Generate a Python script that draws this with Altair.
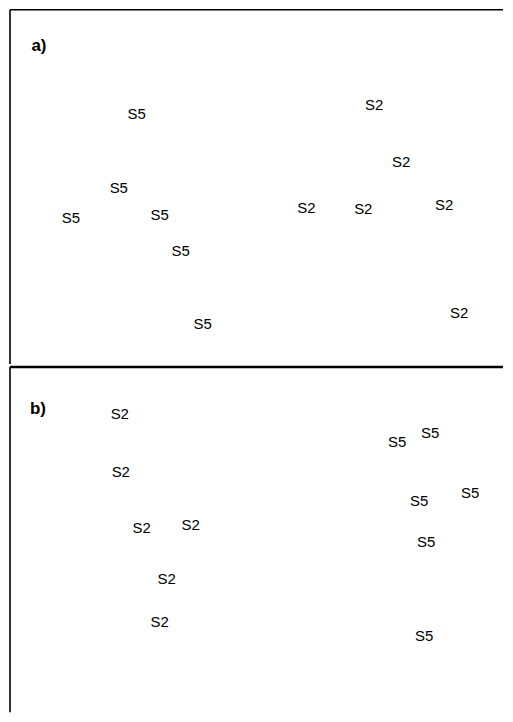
import altair as alt
import pandas as pd

# Panel a) ordination scores (x, y in plot units; y measured downward from the top edge)
a_labels = ["S5", "S2", "S2", "S5", "S5", "S5", "S2", "S2", "S2", "S5", "S5", "S2"]
a_x = [127, 365, 392, 109, 61, 150, 297, 354, 435, 171, 193, 450]
a_y = [105, 95, 153, 179, 209, 206, 199, 200, 196, 242, 315, 304]

# Panel b) ordination scores
b_labels = ["S2", "S2", "S2", "S2", "S2", "S2", "S5", "S5", "S5", "S5", "S5", "S5"]
b_x = [110, 111, 132, 181, 157, 150, 388, 421, 410, 461, 417, 415]
b_y = [47, 105, 161, 158, 212, 256, 75, 66, 134, 126, 175, 270]

panel_names = ["a)", "b)"]
panel_name_x = [29, 28]
panel_name_y = [36, 42]

W = 494
HA = 355
HB = 346
FONT = "Liberation Sans"


def panel(labels, xs, ys, name, nx, ny, height, top_width):
    df = pd.DataFrame({"x": xs, "y": ys, "label": labels})
    nd = pd.DataFrame({"x": [nx], "y": [ny], "label": [name]})
    frame = pd.DataFrame({"edge": ["frame"]})
    xs_ = alt.Scale(domain=[0, W], nice=False, zero=False)
    ys_ = alt.Scale(domain=[height, 0], nice=False, zero=False)
    pts = alt.Chart(df).mark_text(font=FONT, fontSize=15, align="center",
                                  baseline="middle", color="black").encode(
        x=alt.X("x:Q", scale=xs_, axis=None),
        y=alt.Y("y:Q", scale=ys_, axis=None),
        text="label:N",
    )
    lab = alt.Chart(nd).mark_text(font=FONT, fontSize=17, fontWeight="bold",
                                  align="center", baseline="middle", color="black").encode(
        x=alt.X("x:Q", scale=xs_, axis=None),
        y=alt.Y("y:Q", scale=ys_, axis=None),
        text="label:N",
    )
    top = alt.Chart(frame).mark_rule(color="black", strokeWidth=top_width).encode(
        x=alt.value(0), x2=alt.value(W), y=alt.value(0)
    )
    left = alt.Chart(frame).mark_rule(color="black", strokeWidth=1.6).encode(
        x=alt.value(0), y=alt.value(0), y2=alt.value(height)
    )
    return alt.layer(top, left, pts, lab).properties(width=W, height=height)

pa = panel(a_labels, a_x, a_y, panel_names[0], panel_name_x[0], panel_name_y[0], HA, 1.6)
pb = panel(b_labels, b_x, b_y, panel_names[1], panel_name_x[1], panel_name_y[1], HB, 2.4)

chart = (alt.vconcat(pa, pb, spacing=0)
         .properties(padding=0)
         .configure_view(stroke="transparent", strokeWidth=0))

chart.save("out.html", embed_options={"renderer": "svg", "actions": False})
